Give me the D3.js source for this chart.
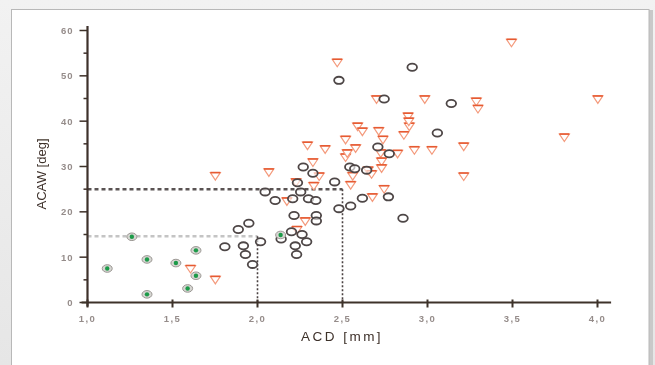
<!DOCTYPE html>
<html>
<head>
<meta charset="utf-8">
<script src="https://cdn.jsdelivr.net/npm/d3@7"></script>
<style>
  html, body { margin: 0; padding: 0; background: #fff; }
  svg { display: block; }
</style>
</head>
<body>
<svg id="chart" width="655" height="365"></svg>
<script>
// ACD [mm] vs ACAW [deg]
const greenPts = [
  [1.116, 7.5], [1.261, 14.5], [1.35, 9.5], [1.35, 1.8], [1.52, 8.7],
  [1.589, 3.1], [1.638, 11.5], [1.638, 5.9], [2.136, 14.9]
];
const circlePts = [
  [1.808, 12.3], [1.887, 16.1], [1.949, 17.5], [1.917, 12.5], [1.929, 10.6],
  [1.971, 8.4], [2.018, 13.4], [2.045, 24.4], [2.104, 22.5], [2.139, 14.0],
  [2.2, 15.6], [2.207, 22.9], [2.215, 19.2], [2.222, 12.5], [2.23, 10.6],
  [2.235, 26.4], [2.254, 24.4], [2.262, 15.0], [2.269, 29.9], [2.289, 13.4],
  [2.3, 22.9], [2.326, 28.5], [2.343, 22.5], [2.346, 19.2], [2.346, 18.0],
  [2.454, 26.6], [2.479, 49.0], [2.479, 20.7], [2.548, 21.3], [2.543, 29.9],
  [2.572, 29.5], [2.617, 23.0], [2.642, 29.2], [2.708, 34.3], [2.745, 44.9],
  [2.77, 23.3], [2.775, 32.8], [2.856, 18.6], [2.91, 51.9], [3.058, 37.4],
  [3.14, 43.9]
];
const trianglePts = [
  [1.606, 7.5], [1.752, 5.1], [1.752, 28.0], [2.067, 28.8], [2.173, 22.4],
  [2.227, 26.6], [2.232, 16.1], [2.281, 18.0], [2.294, 34.7], [2.326, 31.0],
  [2.331, 25.8], [2.363, 27.9], [2.398, 33.9], [2.469, 53.0], [2.518, 36.0],
  [2.518, 32.1], [2.528, 33.0], [2.548, 26.0], [2.56, 28.0], [2.577, 34.1],
  [2.589, 38.9], [2.617, 37.8], [2.651, 29.2], [2.671, 28.4], [2.676, 23.3],
  [2.7, 44.9], [2.713, 37.9], [2.725, 33.0], [2.73, 31.2], [2.73, 29.7],
  [2.738, 36.0], [2.745, 25.1], [2.824, 32.9], [2.861, 37.0], [2.886, 41.1],
  [2.893, 38.9], [2.89, 40.0], [2.923, 33.7], [2.984, 44.9], [3.026, 33.7],
  [3.213, 34.5], [3.213, 27.9], [3.287, 44.4], [3.297, 42.8], [3.494, 57.4],
  [3.805, 36.5], [4.002, 44.9]
];
const xTicks = [1.0, 1.5, 2.0, 2.5, 3.0, 3.5, 4.0];
const yTicks = [0, 10, 20, 30, 40, 50, 60];
const yMinor = [5, 15, 25, 35, 45, 55];
const cutoffs = [
  { x: 2.5, y: 25, hColor: "#5a5252" },
  { x: 2.0, y: 14.6, hColor: "#c4c4c4" }
];

const W = 655, H = 365;
const svg = d3.select("#chart");
const ink = "#3d302a";

// frame & panel
const defs = svg.append("defs");
const grad = defs.append("linearGradient").attr("id", "bg").attr("x1", 0).attr("y1", 0).attr("x2", 0).attr("y2", 1);
grad.append("stop").attr("offset", 0).attr("stop-color", "#f2f2f2");
grad.append("stop").attr("offset", 1).attr("stop-color", "#e6e6e6");
defs.append("filter").attr("id", "soft")
  .append("feGaussianBlur").attr("stdDeviation", 0.35);

svg.append("rect").attr("width", W).attr("height", H).attr("fill", "url(#bg)");
svg.append("rect").attr("x", 649).attr("y", 10).attr("width", 4).attr("height", H)
  .attr("fill", "#c9c9c9");
svg.append("rect").attr("x", 11.5).attr("y", 9.5).attr("width", 637.5).attr("height", H)
  .attr("fill", "#fff").attr("stroke", "#b8b8b8").attr("stroke-width", 1);

const x = d3.scaleLinear().domain([1, 4]).range([87.5, 597.5]);
const y = d3.scaleLinear().domain([0, 60]).range([302.5, 30.5]);

const plot = svg.append("g").attr("filter", "url(#soft)");

// cutoff lines
cutoffs.forEach(c => {
  plot.append("line")
    .attr("x1", x(1)).attr("x2", x(c.x)).attr("y1", y(c.y)).attr("y2", y(c.y))
    .attr("stroke", c.hColor).attr("stroke-width", 2.5).attr("stroke-dasharray", "4,3");
  plot.append("line")
    .attr("x1", x(c.x)).attr("x2", x(c.x)).attr("y1", y(c.y)).attr("y2", y(0))
    .attr("stroke", "#4a4242").attr("stroke-width", 1.6).attr("stroke-dasharray", "2,2");
});

// axes
plot.append("line").attr("x1", x(0.965)).attr("x2", x(4.08)).attr("y1", y(0)).attr("y2", y(0))
  .attr("stroke", ink).attr("stroke-width", 2.2);
plot.append("line").attr("x1", x(1)).attr("x2", x(1)).attr("y1", y(0) + 4).attr("y2", y(61))
  .attr("stroke", ink).attr("stroke-width", 2.2);

plot.selectAll(".xt").data(xTicks).join("line")
  .attr("x1", d => x(d)).attr("x2", d => x(d)).attr("y1", y(0) - 3).attr("y2", y(0) + 5)
  .attr("stroke", ink).attr("stroke-width", 2);
plot.selectAll(".xl").data(xTicks).join("text")
  .attr("x", d => x(d)).attr("y", y(0) + 19)
  .attr("text-anchor", "middle")
  .attr("font-family", "Liberation Sans, Arial, sans-serif").attr("font-size", 9.5)
  .attr("font-weight", "bold")
  .attr("letter-spacing", 1.5).attr("fill", "#958c8a")
  .text(d => d3.format(".1f")(d).replace(".", ","));

plot.selectAll(".yt").data(yTicks).join("line")
  .attr("x1", x(1) - 8).attr("x2", x(1)).attr("y1", d => y(d)).attr("y2", d => y(d))
  .attr("stroke", ink).attr("stroke-width", 1.5);
plot.selectAll(".ym").data(yMinor).join("line")
  .attr("x1", x(1) - 4).attr("x2", x(1)).attr("y1", d => y(d)).attr("y2", d => y(d))
  .attr("stroke", ink).attr("stroke-width", 1.5);
plot.selectAll(".yl").data(yTicks).join("text")
  .attr("x", x(1) - 14).attr("y", d => y(d) + 3.5)
  .attr("text-anchor", "end")
  .attr("font-family", "Liberation Sans, Arial, sans-serif").attr("font-size", 9.5)
  .attr("font-weight", "bold")
  .attr("letter-spacing", 1).attr("fill", "#958c8a")
  .text(d => d);

// axis titles
plot.append("text").attr("x", 342).attr("y", 341).attr("text-anchor", "middle")
  .attr("font-family", "Liberation Sans, Arial, sans-serif").attr("font-size", 13.5)
  .attr("letter-spacing", 2.5).attr("fill", ink).text("ACD [mm]");
plot.append("text").attr("transform", "translate(46,174) rotate(-90)").attr("text-anchor", "middle")
  .attr("font-family", "Liberation Sans, Arial, sans-serif").attr("font-size", 13)
  .attr("fill", ink).text("ACAW [deg]");

// triangles
const tri = plot.append("g");
trianglePts.forEach(([a, b]) => {
  const cx = x(a), cy = y(b);
  tri.append("path")
    .attr("d", `M${cx - 5},${cy - 3} L${cx + 5},${cy - 3} L${cx},${cy + 4.5} Z`)
    .attr("fill", "#fff").attr("stroke", "#f49a7c").attr("stroke-width", 1.2);
  tri.append("line")
    .attr("x1", cx - 5).attr("x2", cx + 5).attr("y1", cy - 3).attr("y2", cy - 3)
    .attr("stroke", "#e65a32").attr("stroke-width", 1.6);
});

// open circles
plot.append("g").selectAll("ellipse").data(circlePts).join("ellipse")
  .attr("cx", d => x(d[0])).attr("cy", d => y(d[1]))
  .attr("rx", 4.8).attr("ry", 3.6)
  .attr("fill", "#fff").attr("fill-opacity", 0.6)
  .attr("stroke", "#4e4646").attr("stroke-width", 1.8);

// green filled
const g = plot.append("g").selectAll("g").data(greenPts).join("g")
  .attr("transform", d => `translate(${x(d[0])},${y(d[1])})`);
g.append("ellipse").attr("rx", 5).attr("ry", 3.8)
  .attr("fill", "#d6d6d2").attr("stroke", "#9a9692").attr("stroke-width", 1);
g.append("circle").attr("r", 2.2).attr("fill", "#1e9a48");
</script>
</body>
</html>
